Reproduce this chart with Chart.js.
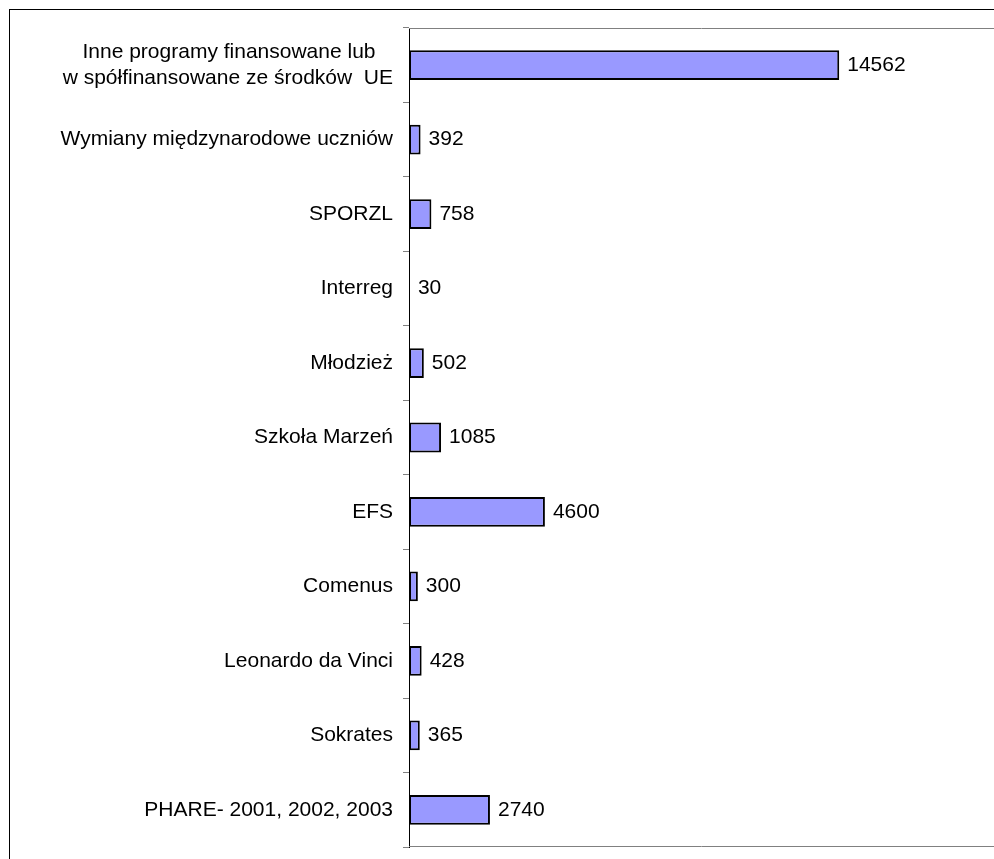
<!DOCTYPE html>
<html>
<head>
<meta charset="utf-8">
<script src="https://cdn.jsdelivr.net/npm/chart.js@4.4.0/dist/chart.umd.min.js"></script>
<style>
  html, body { margin: 0; padding: 0; overflow: hidden; background: #fff; }
  #wrap { position: relative; width: 994px; height: 859px; }
  #frame { position: absolute; left: 9px; top: 9px; width: 1100px; height: 1000px;
           border-left: 1px solid #000; border-top: 1px solid #000; box-sizing: border-box; pointer-events: none; }
  canvas { position: absolute; left: 0; top: 0; }
</style>
</head>
<body>
<div id="wrap">
  <canvas id="chart" width="994" height="859"></canvas>
  <div id="frame"></div>
</div>
<script>
// kategorie (od góry)
const categories = [
    ['Inne programy finansowane lub\u00a0\u00a0\u00a0', 'w spółfinansowane ze środków  UE'],
    'Wymiany międzynarodowe uczniów',
    'SPORZL',
    'Interreg',
    'Młodzież',
    'Szkoła Marzeń',
    'EFS',
    'Comenus',
    'Leonardo da Vinci',
    'Sokrates',
    'PHARE- 2001, 2002, 2003'
];
const values = [14562, 392, 758, 30, 502, 1085, 4600, 300, 428, 365, 2740];

const FONT = { family: '"Liberation Sans", Arial, sans-serif', size: 21 };

// wartości przy końcach słupków
const valueLabels = {
    id: 'valueLabels',
    afterDatasetsDraw(chart) {
        const ctx = chart.ctx;
        const meta = chart.getDatasetMeta(0);
        ctx.save();
        ctx.fillStyle = '#000';
        ctx.font = FONT.size + 'px ' + FONT.family;
        ctx.textAlign = 'left';
        ctx.textBaseline = 'middle';
        meta.data.forEach((bar, i) => {
            ctx.fillText(String(values[i]), bar.x + 8, bar.y);
        });
        ctx.restore();
    }
};

// szara ramka obszaru wykresu (góra i dół)
const plotFrame = {
    id: 'plotFrame',
    beforeDatasetsDraw(chart) {
        const a = chart.chartArea;
        const ctx = chart.ctx;
        ctx.save();
        ctx.strokeStyle = '#808080';
        ctx.lineWidth = 1;
        ctx.beginPath();
        ctx.moveTo(a.left, Math.round(a.top) + 0.5);
        ctx.lineTo(a.right, Math.round(a.top) + 0.5);
        ctx.moveTo(a.left, Math.round(a.bottom) - 0.5);
        ctx.lineTo(a.right, Math.round(a.bottom) - 0.5);
        ctx.stroke();
        ctx.restore();
    }
};

new Chart(document.getElementById('chart').getContext('2d'), {
    type: 'bar',
    data: {
        labels: categories,
        datasets: [{
            data: values,
            backgroundColor: '#9999FF',
            borderColor: '#000',
            borderWidth: 2,
            borderSkipped: false,
            barPercentage: 0.4,
            categoryPercentage: 1.0
        }]
    },
    options: {
        indexAxis: 'y',
        responsive: false,
        animation: false,
        layout: { padding: { top: 28, bottom: 12, left: 0, right: 0 } },
        plugins: {
            legend: { display: false },
            tooltip: { enabled: false }
        },
        scales: {
            x: {
                display: false,
                min: 0,
                max: 19800
            },
            y: {
                afterFit: s => {
                    s.width = 409;
                    s.paddingTop = 0;
                    s.paddingBottom = 0;
                },
                border: { display: true, color: '#000', width: 1 },
                grid: {
                    offset: true,
                    drawOnChartArea: false,
                    drawTicks: true,
                    tickLength: 6,
                    color: '#808080'
                },
                ticks: {
                    color: '#000',
                    font: FONT,
                    padding: 10,
                    autoSkip: false
                }
            }
        }
    },
    plugins: [plotFrame, valueLabels]
});
</script>
</body>
</html>
